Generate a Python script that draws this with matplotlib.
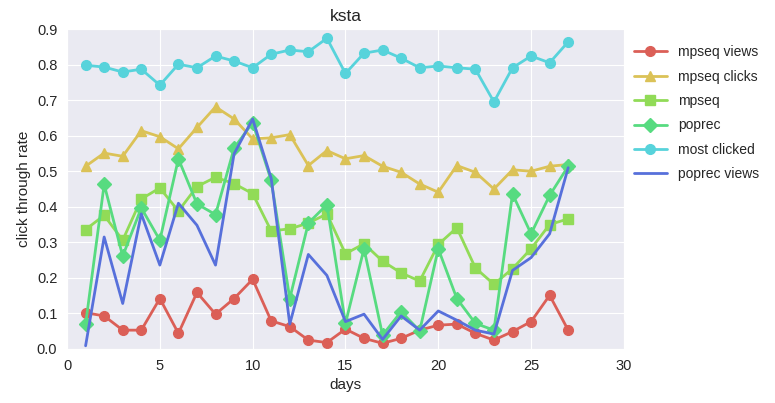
import numpy as np
import matplotlib
matplotlib.use("Agg")
import matplotlib.pyplot as plt
import seaborn as sns

days = np.arange(1, 28)

mpseq_views = [0.102, 0.093, 0.053, 0.053, 0.142, 0.044, 0.159, 0.098, 0.142, 0.196,
               0.079, 0.063, 0.025, 0.018, 0.056, 0.030, 0.016, 0.030, 0.053, 0.067,
               0.070, 0.044, 0.025, 0.049, 0.077, 0.151, 0.053]
mpseq_clicks = [0.514, 0.551, 0.542, 0.614, 0.597, 0.563, 0.623, 0.681, 0.647, 0.591,
                0.594, 0.603, 0.516, 0.558, 0.535, 0.544, 0.514, 0.497, 0.464, 0.441,
                0.516, 0.497, 0.450, 0.504, 0.500, 0.514, 0.519]
mpseq = [0.336, 0.376, 0.306, 0.422, 0.453, 0.388, 0.457, 0.483, 0.465, 0.437,
         0.332, 0.338, 0.354, 0.380, 0.268, 0.296, 0.247, 0.214, 0.191, 0.294,
         0.341, 0.228, 0.182, 0.226, 0.282, 0.350, 0.366]
poprec = [0.070, 0.463, 0.261, 0.397, 0.306, 0.535, 0.408, 0.378, 0.565, 0.637,
          0.474, 0.142, 0.354, 0.406, 0.072, 0.282, 0.039, 0.105, 0.051, 0.282,
          0.142, 0.072, 0.053, 0.436, 0.324, 0.432, 0.514]
most_clicked = [0.798, 0.793, 0.779, 0.787, 0.742, 0.801, 0.791, 0.824, 0.810, 0.791,
                0.829, 0.841, 0.836, 0.874, 0.775, 0.832, 0.841, 0.818, 0.791, 0.796,
                0.791, 0.787, 0.695, 0.791, 0.824, 0.805, 0.864]
poprec_views = [0.009, 0.315, 0.128, 0.380, 0.236, 0.410, 0.348, 0.236, 0.549, 0.647,
                0.480, 0.070, 0.266, 0.207, 0.077, 0.098, 0.027, 0.093, 0.053, 0.107,
                0.081, 0.053, 0.042, 0.221, 0.257, 0.324, 0.510]

sns.set_style("darkgrid")
plt.rcParams['font.family'] = ['Liberation Sans', 'DejaVu Sans']
colors = sns.color_palette("hls", 8)

fig = plt.figure(figsize=(7.75, 4.03), dpi=100)
ax = fig.add_axes([0.0865, 0.134, 0.7185, 0.794])

lw = 2.0
ms = 7
ax.plot(days, mpseq_views, marker='o', color=colors[0], lw=lw, ms=ms, label='mpseq views')
ax.plot(days, mpseq_clicks, marker='^', color=colors[1], lw=lw, ms=ms, label='mpseq clicks')
ax.plot(days, mpseq, marker='s', color=colors[2], lw=lw, ms=ms, label='mpseq')
ax.plot(days, poprec, marker='D', color=colors[3], lw=lw, ms=ms, label='poprec')
ax.plot(days, most_clicked, marker='o', color=colors[4], lw=lw, ms=ms, label='most clicked')
ax.plot(days, poprec_views, color=colors[5], lw=lw, label='poprec views')

ax.set_xlim(0, 30)
ax.set_ylim(0, 0.9)
ax.set_xticks(range(0, 31, 5))
ax.set_yticks(np.arange(0, 0.91, 0.1))
ax.tick_params(labelsize=10.5, colors='#262626')
ax.set_xlabel('days', fontsize=11, color='#262626')
ax.set_ylabel('click through rate', fontsize=11, color='#262626')
ax.set_title('ksta', fontsize=12.5, color='#262626')

# legend sits just outside the right edge of the axes
ax.legend(loc='upper left', bbox_to_anchor=(1.0, 0.98), fontsize=10,
          frameon=False, handlelength=2.4, handletextpad=0.8,
          labelspacing=0.75, borderaxespad=0.3)

fig.savefig('out.png', dpi=100)
